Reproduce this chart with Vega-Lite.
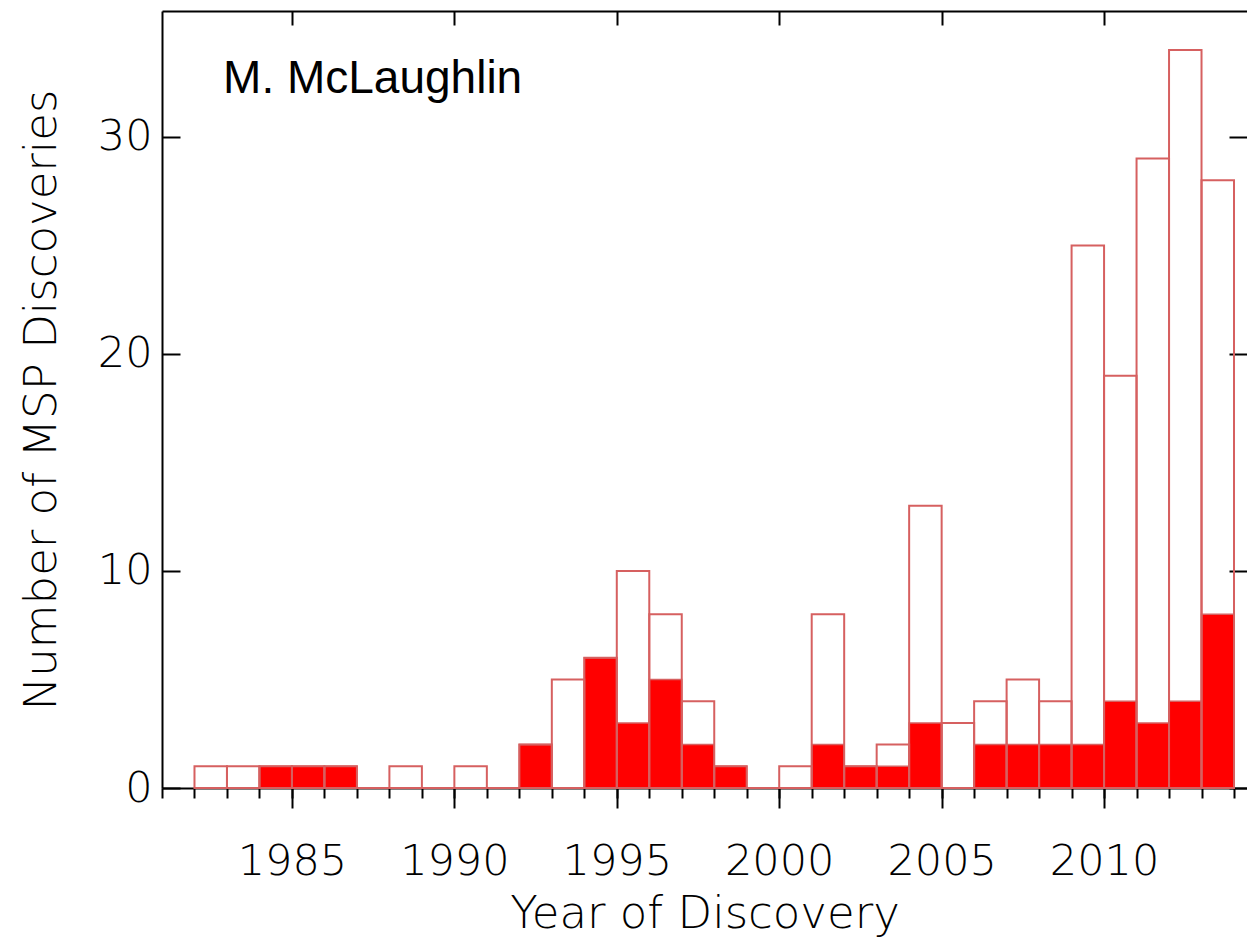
{
  "$schema": "https://vega.github.io/schema/vega-lite/v6.json",
  "width": 1085,
  "height": 777,
  "autosize": {"type": "none"},
  "padding": {"left": 162, "top": 11, "right": 0, "bottom": 151},
  "background": "white",
  "config": {
    "view": {"stroke": null},
    "axis": {
      "labelFont": "DejaVu Sans",
      "labelFontWeight": 200,
      "labelFontSize": 43,
      "labelColor": "black",
      "titleFont": "DejaVu Sans",
      "titleFontWeight": 200,
      "titleFontSize": 45,
      "titleColor": "black",
      "domainColor": "black",
      "domainWidth": 2,
      "tickColor": "black",
      "tickWidth": 2,
      "grid": false
    }
  },
  "datasets": {
    "counts": [
      {"start": 1982, "end": 1983, "total": 1, "subset": 0},
      {"start": 1983, "end": 1984, "total": 1, "subset": 0},
      {"start": 1984, "end": 1985, "total": 1, "subset": 1},
      {"start": 1985, "end": 1986, "total": 1, "subset": 1},
      {"start": 1986, "end": 1987, "total": 1, "subset": 1},
      {"start": 1987, "end": 1988, "total": 0, "subset": 0},
      {"start": 1988, "end": 1989, "total": 1, "subset": 0},
      {"start": 1989, "end": 1990, "total": 0, "subset": 0},
      {"start": 1990, "end": 1991, "total": 1, "subset": 0},
      {"start": 1991, "end": 1992, "total": 0, "subset": 0},
      {"start": 1992, "end": 1993, "total": 2, "subset": 2},
      {"start": 1993, "end": 1994, "total": 5, "subset": 0},
      {"start": 1994, "end": 1995, "total": 6, "subset": 6},
      {"start": 1995, "end": 1996, "total": 10, "subset": 3},
      {"start": 1996, "end": 1997, "total": 8, "subset": 5},
      {"start": 1997, "end": 1998, "total": 4, "subset": 2},
      {"start": 1998, "end": 1999, "total": 1, "subset": 1},
      {"start": 1999, "end": 2000, "total": 0, "subset": 0},
      {"start": 2000, "end": 2001, "total": 1, "subset": 0},
      {"start": 2001, "end": 2002, "total": 8, "subset": 2},
      {"start": 2002, "end": 2003, "total": 1, "subset": 1},
      {"start": 2003, "end": 2004, "total": 2, "subset": 1},
      {"start": 2004, "end": 2005, "total": 13, "subset": 3},
      {"start": 2005, "end": 2006, "total": 3, "subset": 0},
      {"start": 2006, "end": 2007, "total": 4, "subset": 2},
      {"start": 2007, "end": 2008, "total": 5, "subset": 2},
      {"start": 2008, "end": 2009, "total": 4, "subset": 2},
      {"start": 2009, "end": 2010, "total": 25, "subset": 2},
      {"start": 2010, "end": 2011, "total": 19, "subset": 4},
      {"start": 2011, "end": 2012, "total": 29, "subset": 3},
      {"start": 2012, "end": 2013, "total": 34, "subset": 4},
      {"start": 2013, "end": 2014, "total": 28, "subset": 8}
    ],
    "note": [
      {"label": "M. McLaughlin", "year": 1982.88, "count": 32.0}
    ]
  },
  "resolve": {"axis": {"x": "independent", "y": "independent"}},
  "layer": [
    {
      "data": {"name": "counts"},
      "mark": {"type": "rect", "fill": "#ff0000", "stroke": "#d66060", "strokeWidth": 1.5},
      "encoding": {
        "x": {
          "field": "start", "type": "quantitative",
          "scale": {"domain": [1981, 2014.4], "nice": false, "zero": false},
          "axis": {
            "orient": "bottom",
            "values": [1981, 1982, 1983, 1984, 1985, 1986, 1987, 1988, 1989, 1990, 1991, 1992, 1993, 1994, 1995, 1996, 1997, 1998, 1999, 2000, 2001, 2002, 2003, 2004, 2005, 2006, 2007, 2008, 2009, 2010, 2011, 2012, 2013, 2014],
            "tickSize": 10,
            "labels": false,
            "title": null,
            "domain": true
          }
        },
        "x2": {"field": "end"},
        "y": {
          "field": "subset", "type": "quantitative",
          "scale": {"domain": [0, 35.8], "nice": false},
          "axis": {
            "orient": "left",
            "values": [0, 10, 20, 30],
            "tickSize": -18,
            "labelPadding": 28,
            "labelBaseline": "middle",
            "title": "Number of MSP Discoveries",
            "titlePadding": 33,
            "domain": true
          }
        },
        "y2": {"datum": 0}
      }
    },
    {
      "data": {"name": "counts"},
      "mark": {"type": "rect", "fill": null, "fillOpacity": 0, "stroke": "#d66060", "strokeWidth": 2},
      "encoding": {
        "x": {
          "field": "start", "type": "quantitative",
          "scale": {"domain": [1981, 2014.4], "nice": false, "zero": false},
          "axis": {
            "orient": "bottom",
            "values": [1985, 1990, 1995, 2000, 2005, 2010],
            "format": "d",
            "tickSize": 20,
            "labelPadding": 32,
            "labelBaseline": "top",
            "title": "Year of Discovery",
            "titlePadding": 8,
            "domain": false
          }
        },
        "x2": {"field": "end"},
        "y": {
          "field": "total", "type": "quantitative",
          "scale": {"domain": [0, 35.8], "nice": false},
          "axis": {
            "orient": "right",
            "values": [0, 10, 20, 30],
            "tickSize": -18,
            "labels": false,
            "title": null,
            "domain": false
          }
        },
        "y2": {"datum": 0}
      }
    },
    {
      "data": {"name": "note"},
      "mark": {"type": "text", "font": "Liberation Sans", "fontSize": 46, "align": "left", "baseline": "alphabetic", "color": "black"},
      "encoding": {
        "x": {
          "field": "year", "type": "quantitative",
          "scale": {"domain": [1981, 2014.4], "nice": false, "zero": false},
          "axis": {
            "orient": "top",
            "values": [1985, 1990, 1995, 2000, 2005, 2010],
            "tickSize": -14,
            "labels": false,
            "title": null,
            "domain": true
          }
        },
        "y": {
          "field": "count", "type": "quantitative",
          "scale": {"domain": [0, 35.8], "nice": false},
          "axis": null
        },
        "text": {"field": "label"}
      }
    }
  ]
}
